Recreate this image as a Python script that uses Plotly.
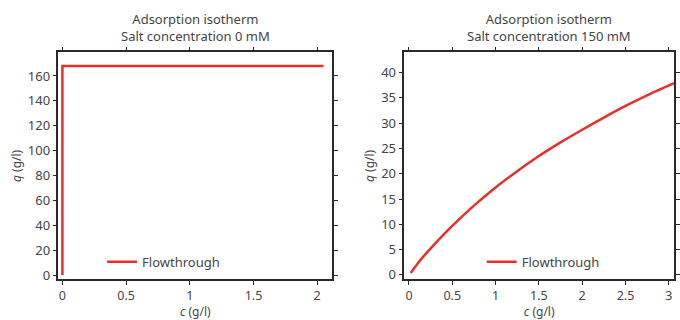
import plotly.graph_objects as go

# Data
c_0mM = [0.0, 0.0, 2.05]
q_0mM = [0.0, 168.0, 168.0]

c_150mM = [0.02, 0.13, 0.29, 0.5, 0.75, 1.0, 1.25, 1.5, 1.75, 2.0, 2.25, 2.5, 2.75, 3.06]
q_150mM = [0.4, 2.9, 6.0, 9.7, 13.7, 17.3, 20.5, 23.5, 26.2, 28.7, 31.1, 33.4, 35.5, 37.9]

x_ticks_left = [0, 0.5, 1, 1.5, 2]
x_ticks_right = [0, 0.5, 1, 1.5, 2, 2.5, 3]
y_ticks_left = [0, 20, 40, 60, 80, 100, 120, 140, 160]
y_ticks_right = [0, 5, 10, 15, 20, 25, 30, 35, 40]

titles = ["Adsorption isotherm<br>Salt concentration 0 mM",
          "Adsorption isotherm<br>Salt concentration 150 mM"]
series_name = "Flowthrough"

RED = "#e8302a"
TXT = "#454545"
AX = "#2a2a2a"
FONT = "Noto Sans"
FS = 13
W, H = 680, 320

fig = go.Figure()
fig.add_trace(go.Scatter(x=c_0mM, y=q_0mM, mode="lines", name=series_name,
                         line=dict(color=RED, width=2.5), xaxis="x", yaxis="y",
                         legend="legend", showlegend=True))
fig.add_trace(go.Scatter(x=c_150mM, y=q_150mM, mode="lines", name=series_name,
                         line=dict(color=RED, width=2.5, shape="spline", smoothing=0.6),
                         xaxis="x2", yaxis="y2", legend="legend2", showlegend=True))

def px_x(p):
    return p / W

def px_y(p):
    return 1 - p / H

tf = dict(family=FONT, size=FS, color=TXT)
xtf = dict(family=FONT, size=12.5, color=TXT)
atf = dict(family=FONT, size=12, color=TXT)
common = dict(showline=True, linecolor=AX, linewidth=1.5, mirror="allticks",
              ticks="outside", ticklen=4, tickwidth=1, tickcolor=AX,
              showgrid=False, zeroline=False, tickfont=tf)
xcommon = dict(common, tickfont=xtf)

ydom = [px_y(283), px_y(53)]
fig.update_layout(
    width=W, height=H,
    showlegend=True,
    margin=dict(l=0, r=0, t=0, b=0),
    paper_bgcolor="white", plot_bgcolor="white",
    font=tf,
    xaxis=dict(domain=[px_x(59), px_x(335)], range=[-0.031, 2.117],
               tickvals=x_ticks_left, ticktext=[str(v) for v in x_ticks_left],
               title=dict(text="<i>c</i> (g/l)", standoff=5, font=atf),
               anchor="y", **xcommon),
    yaxis=dict(domain=ydom, range=[-3.5, 179],
               tickvals=y_ticks_left,
               title=dict(text="<i>q</i> (g/l)", standoff=4, font=atf),
               anchor="x", **common),
    xaxis2=dict(domain=[px_x(408), 1.0], range=[-0.053, 3.06],
                tickvals=x_ticks_right, ticktext=[str(v) for v in x_ticks_right],
                title=dict(text="<i>c</i> (g/l)", standoff=5, font=atf),
                anchor="y2", **xcommon),
    yaxis2=dict(domain=ydom, range=[-0.9, 44],
                tickvals=y_ticks_right,
                title=dict(text="<i>q</i> (g/l)", standoff=4, font=atf),
                anchor="x2", **common),
    legend=dict(x=px_x(103), y=px_y(265), xanchor="left", yanchor="middle",
                bgcolor="rgba(0,0,0,0)", font=tf),
    legend2=dict(x=px_x(486), y=px_y(265), xanchor="left", yanchor="middle",
                 bgcolor="rgba(0,0,0,0)", font=tf),
    annotations=[
        dict(text=titles[0], x=(px_x(59) + px_x(335)) / 2, y=px_y(28),
             xref="paper", yref="paper", showarrow=False, xanchor="center",
             yanchor="middle", font=tf),
        dict(text=titles[1], x=(px_x(410) + px_x(697)) / 2, y=px_y(28),
             xref="paper", yref="paper", showarrow=False, xanchor="center",
             yanchor="middle", font=tf),
    ],
)

fig.write_html("out.html")
